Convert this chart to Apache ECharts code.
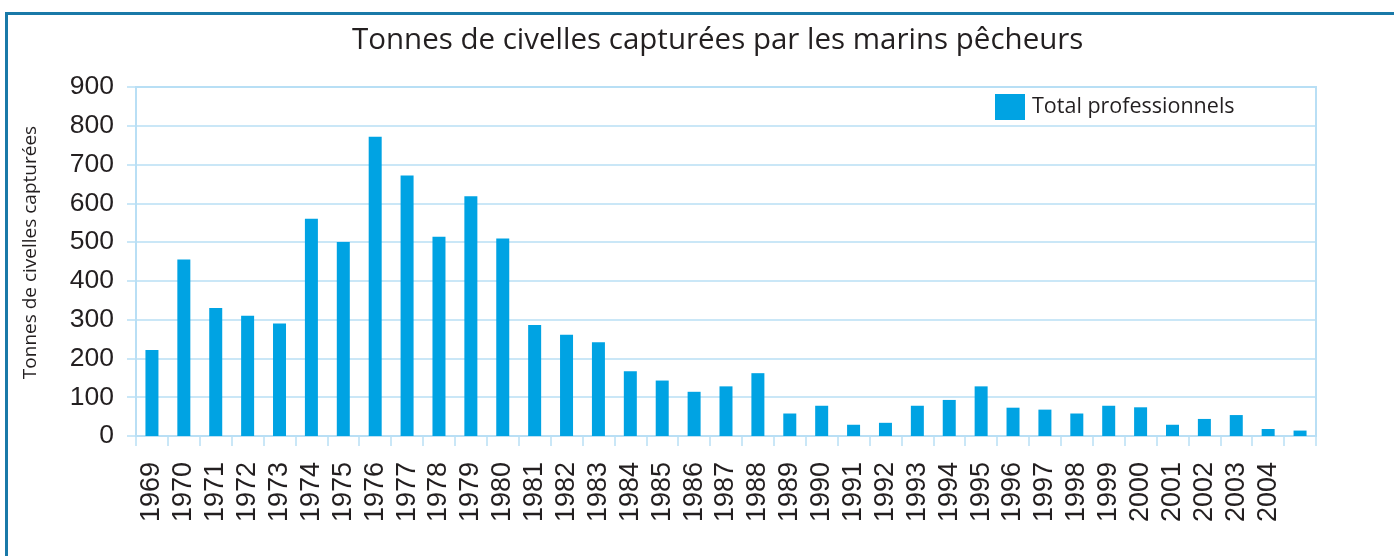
<!DOCTYPE html>
<html>
<head>
<meta charset="utf-8">
<script src="https://cdn.jsdelivr.net/npm/echarts@6/dist/echarts.min.js"></script>
<style>
  html, body { margin: 0; padding: 0; background: #fff; }
  #chart { width: 1394px; height: 556px; }
</style>
</head>
<body>
<div id="chart"></div>
<script>
// années (la dernière barre n'a pas d'étiquette)
const years = ["1969","1970","1971","1972","1973","1974","1975","1976","1977","1978",
  "1979","1980","1981","1982","1983","1984","1985","1986","1987","1988",
  "1989","1990","1991","1992","1993","1994","1995","1996","1997","1998",
  "1999","2000","2001","2002","2003","2004",""];

// tonnes capturées
const totalPro = [222, 455, 330, 310, 290, 560, 500, 772, 672, 514,
  618, 509, 286, 261, 242, 167, 143, 114, 128, 162,
  58, 78, 29, 34, 78, 93, 128, 73, 68, 58,
  78, 74, 29, 44, 54, 18, 14];

const yTicks = [0, 100, 200, 300, 400, 500, 600, 700, 800, 900];

const gridBlue = "#b9dff5";
const textDark = "#231f20";

const chart = echarts.init(document.getElementById("chart"));

const option = {
  animation: false,
  title: {
    text: "Tonnes de civelles capturées par les marins pêcheurs",
    left: 347,
    top: 21,
    textStyle: { fontFamily: "Open Sans", fontWeight: "normal", fontSize: 29.5, color: textDark }
  },
  // cadre extérieur
  graphic: [{
    type: "rect",
    shape: { x: 6.5, y: 13.5, width: 1500, height: 700 },
    style: { fill: "none", stroke: "#1979a8", lineWidth: 3 },
    silent: true
  }],
  legend: {
    data: ["Total professionnels"],
    left: 995,
    top: 94,
    padding: 0,
    icon: "rect",
    itemWidth: 30,
    itemHeight: 26,
    textStyle: { fontFamily: "Open Sans", fontSize: 21.5, color: textDark, padding: [0, 0, 0, 2] }
  },
  grid: {
    left: 136,
    right: 78,
    top: 87,
    bottom: 120,
    show: true,
    borderColor: gridBlue,
    borderWidth: 2
  },
  xAxis: {
    type: "category",
    data: years,
    axisLine: { lineStyle: { color: gridBlue, width: 2 } },
    axisTick: { show: true, length: 10, lineStyle: { color: gridBlue, width: 1.5 } },
    axisLabel: {
      rotate: 90,
      interval: 0,
      margin: 26,
      fontFamily: "Liberation Sans",
      fontSize: 27,
      color: textDark
    }
  },
  yAxis: {
    type: "value",
    min: 0,
    max: 900,
    interval: 100,
    name: "Tonnes de civelles capturées",
    nameLocation: "middle",
    nameRotate: 90,
    nameGap: 96,
    nameTextStyle: { fontFamily: "Open Sans", fontSize: 19, color: textDark, padding: [0, 0, 0, 18] },
    axisLine: { show: true, lineStyle: { color: gridBlue, width: 2 } },
    axisTick: { show: true, length: 9, lineStyle: { color: gridBlue, width: 1.5 } },
    axisLabel: {
      margin: 22,
      fontFamily: "Liberation Sans",
      fontSize: 26.5,
      color: textDark,
      formatter: (v) => (yTicks.includes(v) ? String(v) : "")
    },
    splitLine: { lineStyle: { color: gridBlue, width: 1.5 } }
  },
  series: [{
    name: "Total professionnels",
    type: "bar",
    data: totalPro,
    barWidth: 13,
    itemStyle: { color: "#00a3e3" }
  }]
};

chart.setOption(option);
</script>
</body>
</html>
